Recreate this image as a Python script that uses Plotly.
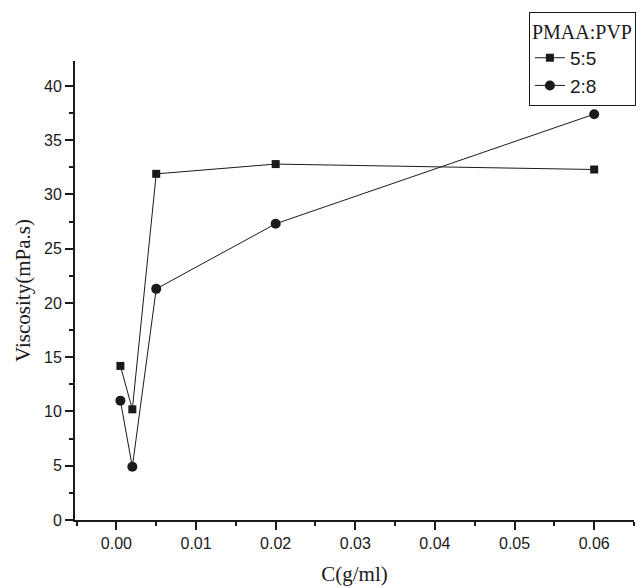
import plotly.graph_objects as go

conc = [0.0005, 0.002, 0.005, 0.02, 0.06]
visc_55 = [14.2, 10.2, 31.9, 32.8, 32.3]
visc_28 = [11.0, 4.9, 21.3, 27.3, 37.4]
series_names = ["5:5", "2:8"]
legend_title = "PMAA:PVP"
x_title = "C(g/ml)"
y_title = "Viscosity(mPa.s)"

INK = "#1a1a1a"
SERIF = "Liberation Serif, Times New Roman, serif"
SANS = "Liberation Sans, Arial, sans-serif"

fig = go.Figure()
fig.add_trace(go.Scatter(x=conc, y=visc_55, name=series_names[0], mode="lines+markers",
                         line=dict(color=INK, width=1),
                         marker=dict(symbol="square", size=8, color=INK)))
fig.add_trace(go.Scatter(x=conc, y=visc_28, name=series_names[1], mode="lines+markers",
                         line=dict(color=INK, width=1),
                         marker=dict(symbol="circle", size=10, color=INK)))

axis_common = dict(showline=True, linecolor=INK, linewidth=2, ticks="outside",
                   ticklen=8, tickwidth=1.5, tickcolor=INK, showgrid=False,
                   zeroline=False, mirror=False,
                   tickfont=dict(family=SANS, size=16, color=INK))

fig.update_xaxes(range=[-0.0052, 0.065], dtick=0.01, tick0=0, tickformat=".2f",
                 minor=dict(ticks="outside", ticklen=4, dtick=0.005, tick0=0, tickcolor=INK),
                 title=dict(text=x_title, font=dict(family=SERIF, size=21, color=INK), standoff=15),
                 **axis_common)
fig.update_yaxes(range=[0, 42.3], dtick=5, tick0=0,
                 minor=dict(ticks="outside", ticklen=4, dtick=2.5, tick0=0, tickcolor=INK),
                 title=dict(text=y_title, font=dict(family=SERIF, size=21, color=INK), standoff=8),
                 **axis_common)

fig.update_layout(
    width=642, height=588,
    margin=dict(l=75, r=8, t=61, b=68, autoexpand=False),
    plot_bgcolor="white", paper_bgcolor="white",
    showlegend=True,
    legend=dict(x=0.812, y=1.107, xanchor="left", yanchor="top",
                bordercolor=INK, borderwidth=1, bgcolor="white",
                title=dict(text=legend_title, font=dict(family=SERIF, size=20, color=INK)),
                font=dict(family=SANS, size=19, color=INK),
                itemwidth=30, tracegroupgap=0),
)

fig.write_html("out.html")
